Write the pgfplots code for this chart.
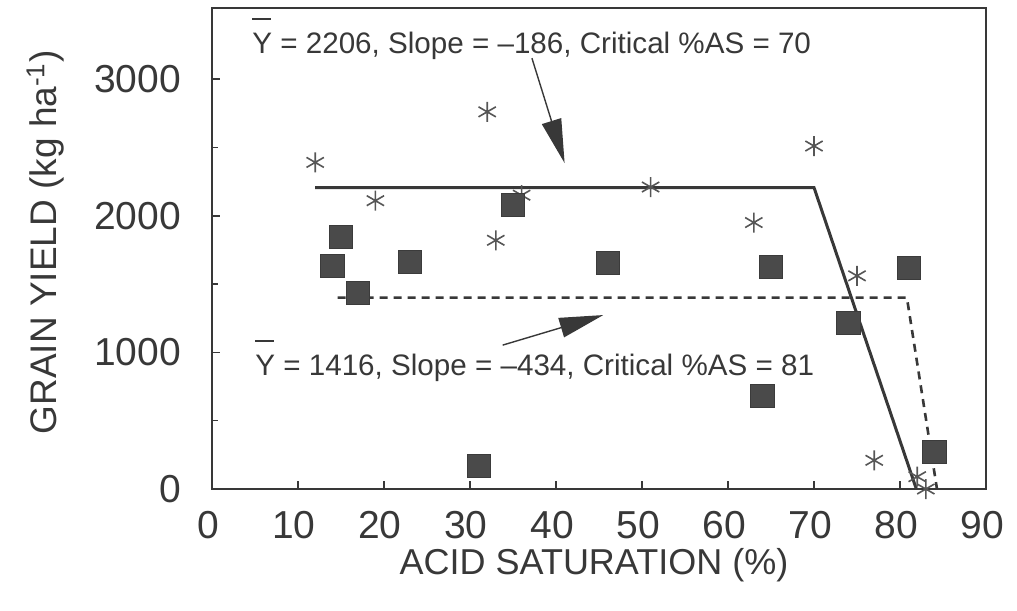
\documentclass[border=0pt]{standalone}
\usepackage{fontspec}
\setmainfont{Liberation Sans}
\usepackage{pgfplots}
\usepackage{pgfplotstable}
\pgfplotsset{compat=1.18}
\usetikzlibrary{calc,arrows.meta}
\definecolor{ink}{HTML}{383838}
\definecolor{sq}{HTML}{4A4A4A}
\newcommand\Ybar{\makebox[0pt][l]{\raisebox{1.12em}{\rule{0.62em}{0.07em}}}Y}

\pgfplotstableread{
x y
12 2390
19 2110
32 2760
33 1820
36 2150
51 2210
63 1950
70 2510
75 1560
77 210
82 90
83 0
}\stars

\pgfplotstableread{
x y
14 1635
15 1845
17 1435
23 1660
31 170
35 2080
46 1655
64 680
65 1625
74 1215
81 1620
84 270
}\squares

\begin{document}
\begin{tikzpicture}
\begin{axis}[
  name=ax,
  scale only axis,
  width=387pt, height=240.5pt,
  xmin=0, xmax=90, ymin=0, ymax=3520,
  xtick={0,10,...,90},
  ytick={0,1000,2000,3000},
  minor ytick={500,1500,2500},
  xtick pos=bottom, ytick pos=left,
  tick align=inside,
  major tick length=4pt, minor tick length=3pt,
  axis line style={ink, line width=0.8pt},
  every tick/.style={ink, line width=0.8pt},
  ticklabel style={font=\fontsize{19.5}{19.5}\selectfont, text=ink},
  /pgf/number format/assume math mode=true,
  /pgf/number format/1000 sep={},
  xticklabel style={yshift=-7.5pt, xshift=-2pt},
  yticklabel style={xshift=-12pt},
  xlabel={ACID SATURATION (\%)},
  ylabel={GRAIN YIELD (kg ha\textsuperscript{-1})},
  every axis x label/.style={at={(axis description cs:0.4935,-0.158)}, anchor=center, font=\fontsize{18}{18}\selectfont, text=ink},
  every axis y label/.style={at={(axis description cs:-0.215,0.513)}, rotate=90, anchor=center, font=\fontsize{18.5}{18.5}\selectfont, text=ink},
  clip=false,
]
\addplot[ink, line width=1.5pt] coordinates {(12,2206) (70,2206) (81.9,0)};
\addplot[ink, line width=1.3pt, dash pattern=on 4pt off 3pt] coordinates {(14.6,1400) (80.8,1400) (84.3,0)};
\addplot[only marks, mark=asterisk, mark size=5pt, mark options={ink!85, line width=0.8pt}] table[x=x,y=y] {\stars};
\addplot[only marks, mark=square*, mark size=5.8pt, mark options={fill=sq, draw=sq!80!black, line width=0.4pt}] table[x=x,y=y] {\squares};
\draw[ink, line width=0.7pt, -{Triangle[length=22pt,width=10pt]}] (axis cs:37.2,3153) -- (axis cs:41,2385);
\draw[ink, line width=0.7pt, -{Triangle[length=22pt,width=10pt]}] (axis cs:33.8,1053) -- (axis cs:45.5,1273);
\node[anchor=base west, inner sep=0pt, text=ink, font=\fontsize{14.8}{14.8}\selectfont] at (axis cs:4.65,3190) {\Ybar\ = 2206, Slope = \textendash186, Critical \%AS = 70};
\node[anchor=base west, inner sep=0pt, text=ink, font=\fontsize{14.8}{14.8}\selectfont] at (axis cs:5.0,834) {\Ybar\ = 1416, Slope = \textendash434, Critical \%AS = 81};
\end{axis}
\pgfresetboundingbox
\path[use as bounding box] ($(ax.south west)+(-106pt,-60.5pt)$) rectangle ($(ax.north east)+(15.5pt,4pt)$);
\end{tikzpicture}
\end{document}
